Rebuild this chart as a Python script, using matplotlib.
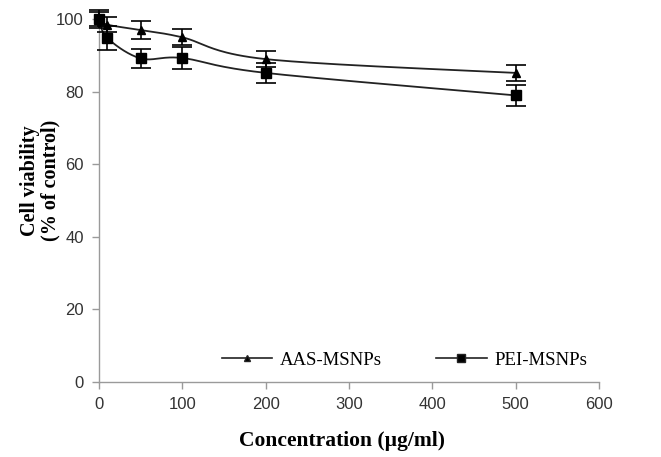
import numpy as np
import matplotlib
matplotlib.use("Agg")
import matplotlib.pyplot as plt
from matplotlib.lines import Line2D

# ── Data ──────────────────────────────────────────────────────────────────────
conc = [0, 10, 50, 100, 200, 500]
aas_mean = [100, 98.5, 97.0, 95.0, 89.0, 85.2]
aas_err = [2.0, 2.0, 2.4, 2.2, 2.2, 2.3]
pei_mean = [100, 94.8, 89.2, 89.3, 85.2, 79.0]
pei_err = [2.5, 3.4, 2.7, 3.0, 2.8, 3.0]

x_ticks = [0, 100, 200, 300, 400, 500, 600]
y_ticks = [0, 20, 40, 60, 80, 100]


def smooth(x, y, n=40):
    """Catmull-Rom curve through the points (like Excel's smoothed line)."""
    p = np.column_stack([x, y]).astype(float)
    p = np.vstack([p[0], p, p[-1]])
    out = []
    t = np.linspace(0, 1, n)[:, None]
    for i in range(1, len(p) - 2):
        p0, p1, p2, p3 = p[i - 1], p[i], p[i + 1], p[i + 2]
        seg = 0.5 * ((2 * p1) + (-p0 + p2) * t + (2 * p0 - 5 * p1 + 4 * p2 - p3) * t**2
                     + (-p0 + 3 * p1 - 3 * p2 + p3) * t**3)
        out.append(seg)
    s = np.vstack(out)
    return s[:, 0], s[:, 1]


fig = plt.figure(figsize=(6.61, 4.57), dpi=100)
ax = fig.add_axes([0.1498, 0.164, 0.7565, 0.794])

line_kw = dict(color="#222222", lw=1.3)
for xs, ys, es, mk, ms in ((conc, aas_mean, aas_err, "^", 6), (conc, pei_mean, pei_err, "s", 7)):
    sx, sy = smooth(xs, ys)
    ax.plot(sx, sy, **line_kw, zorder=2)
    ax.errorbar(xs, ys, yerr=es, fmt=mk, color="black", ms=ms, ecolor="black",
                elinewidth=1.2, capsize=7.5, capthick=1.2, zorder=3)

ax.set_xlim(0, 600)
ax.set_ylim(0, 100)
ax.set_xticks(x_ticks)
ax.set_yticks(y_ticks)
for art in ax.get_children():
    art.set_clip_on(False)

for side in ("top", "right"):
    ax.spines[side].set_visible(False)
for side in ("left", "bottom"):
    ax.spines[side].set_color("#9a9a9a")
    ax.spines[side].set_linewidth(1.0)
ax.tick_params(direction="out", length=5, color="#9a9a9a", width=1.0,
               labelsize=12, labelcolor="#333333", pad=6)
for lab in ax.get_xticklabels() + ax.get_yticklabels():
    lab.set_family("Liberation Sans")

ax.set_xlabel("Concentration (µg/ml)", family="Liberation Serif", fontsize=15.5,
              fontweight="bold")
ax.set_ylabel("Cell viability\n(% of control)", family="Liberation Serif", fontsize=14.5,
              fontweight="bold", linespacing=1.0)
ax.xaxis.set_label_coords(0.486, -0.135)
ax.yaxis.set_label_coords(-0.078, 0.556)

handles = [
    Line2D([], [], color="#222222", lw=1.2, marker="^", ms=4, markerfacecolor="black"),
    Line2D([], [], color="#222222", lw=1.2, marker="s", ms=6, markerfacecolor="black"),
]
ax.legend(handles, ["AAS-MSNPs", "PEI-MSNPs"], loc="center left",
          bbox_to_anchor=(0.245, 0.06), ncol=2, frameon=False, handlelength=2.7,
          handletextpad=0.4, columnspacing=2.9, borderpad=0, borderaxespad=0,
          prop={"family": "Liberation Serif", "size": 13.5})

fig.savefig("out.png", dpi=100)
